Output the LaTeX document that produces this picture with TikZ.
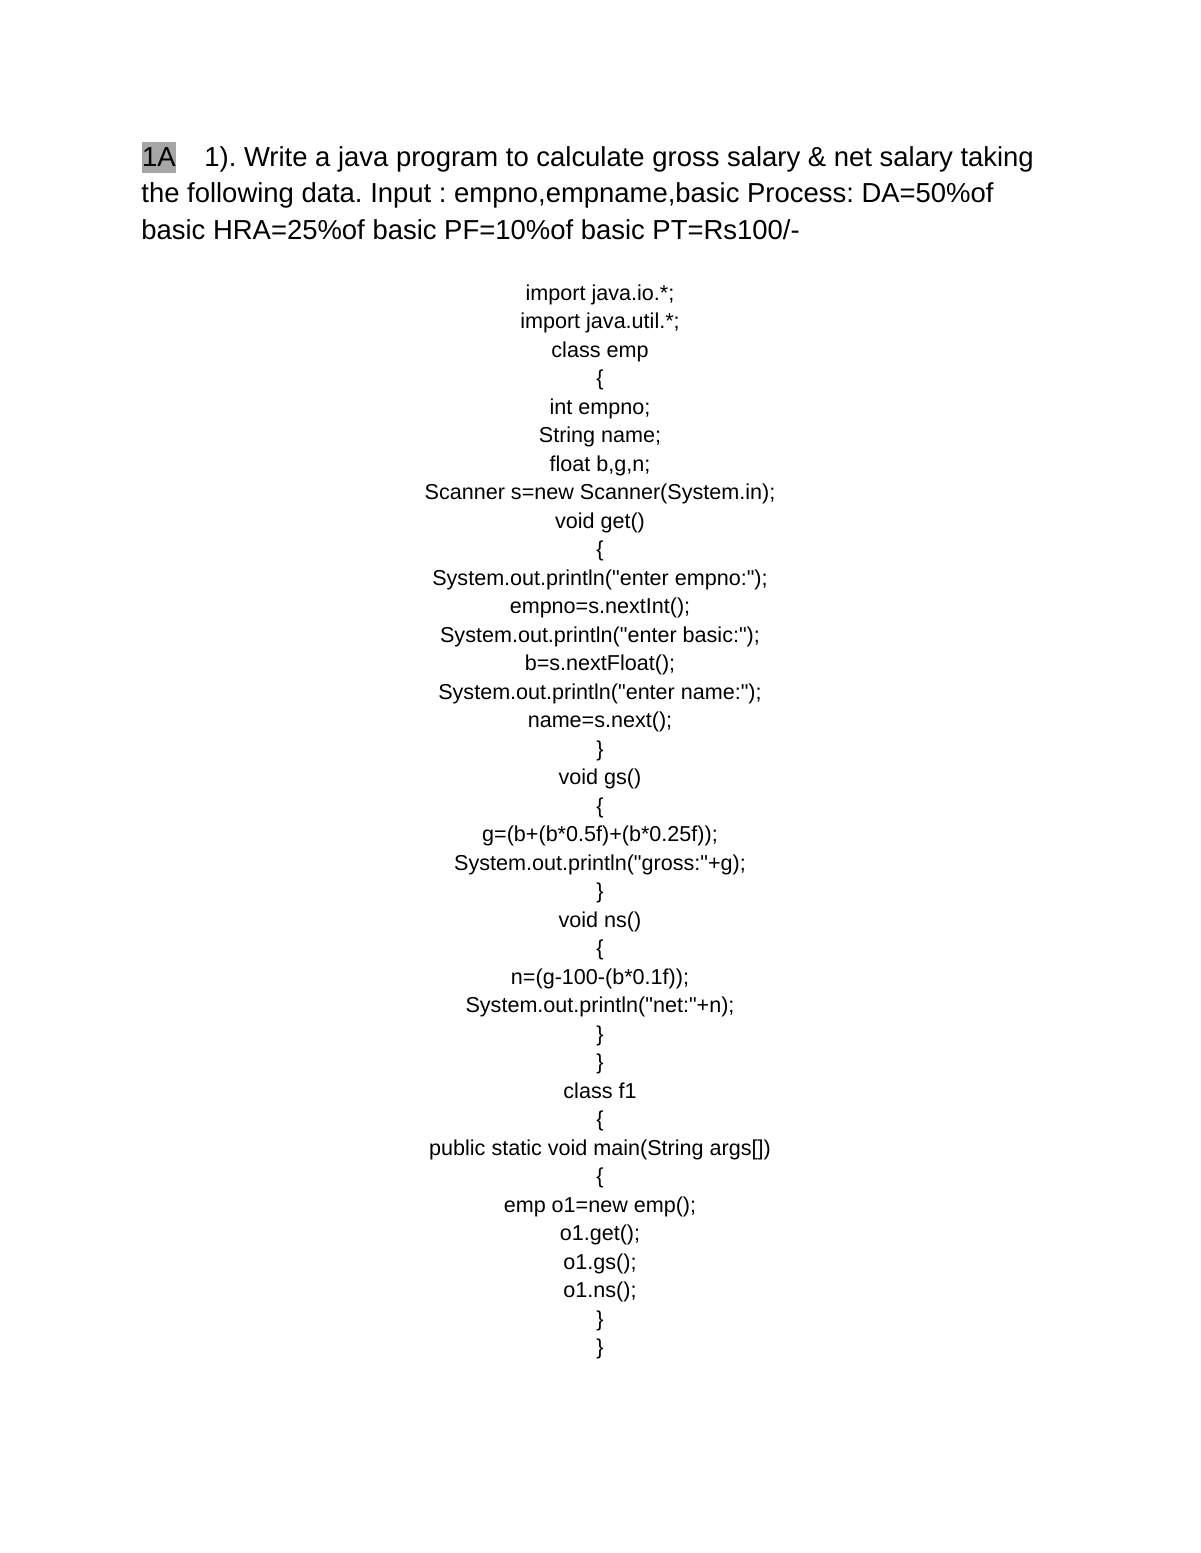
\documentclass[tikz,border=0pt]{standalone}
\usepackage{fontspec}
\setmainfont{Liberation Sans}[Ligatures=TeXOff]
\frenchspacing
\definecolor{marker}{RGB}{166,166,166}
\tikzstyle{heading}=[anchor=base west,inner sep=0pt,font=\fontsize{14}{18}\selectfont]
\tikzstyle{tag}=[heading,fill=marker,text height=12.6pt,text depth=3.5pt]
\tikzstyle{codeline}=[anchor=base,inner sep=0pt,font=\fontsize{11}{14}\selectfont]
\begin{document}
\begin{tikzpicture}[x=0.51pt,y=-0.51pt]
    \fill[white] (0,0) rectangle (1200,1553);
    \useasboundingbox (0,0) rectangle (1200,1553);

    % The question, first line starts with the marked tag
    \node[tag] (tag) at (141.7,166.5) {1A};
    \node[heading] (q1) at (204,166.5) {1). Write a java program to calculate gross salary \& net salary taking};
    \node[heading] (q2) at (141,203) {the following data. Input : empno,empname,basic Process: DA=50\%of};
    \node[heading] (q3) at (141,239) {basic HRA=25\%of basic PF=10\%of basic PT=Rs100/-};

    % Then the program, one centred line after the other
    \foreach \txt [count=\n] in {{import java.io.*;},{import java.util.*;},{class emp},{\{},
        {int empno;},{String name;},{float b,g,n;},{Scanner s=new Scanner(System.in);},
        {void get()},{\{},{System.out.println("enter empno:");},{empno=s.nextInt();},
        {System.out.println("enter basic:");},{b=s.nextFloat();},
        {System.out.println("enter name:");},{name=s.next();},{\}},
        {void gs()},{\{},{g=(b+(b*0.5f)+(b*0.25f));},{System.out.println("gross:"+g);},{\}},
        {void ns()},{\{},{n=(g-100-(b*0.1f));},{System.out.println("net:"+n);},{\}},{\}},
        {class f1},{\{},{public static void main(String args[])},{\{},
        {emp o1=new emp();},{o1.get();},{o1.gs();},{o1.ns();},{\}},{\}}}
        \node[codeline] (line\n) at (600,{300+(\n-1)*28.51}) {\txt};

\end{tikzpicture}
\end{document}
